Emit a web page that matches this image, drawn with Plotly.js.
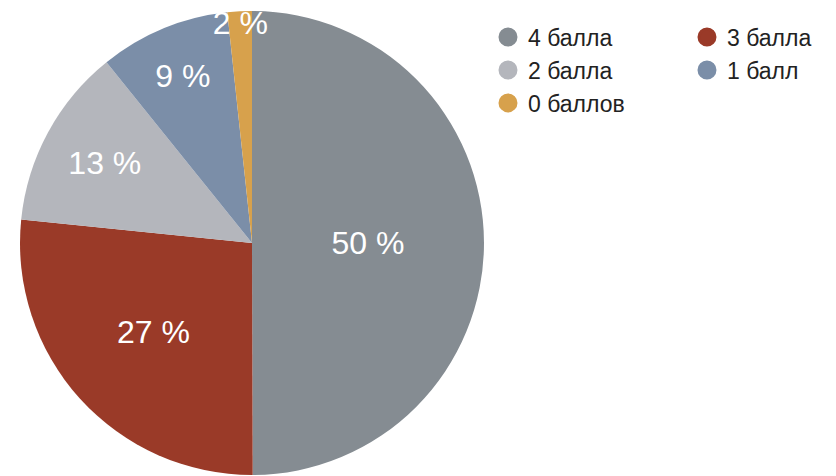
<!DOCTYPE html>
<html>
<head>
<meta charset="utf-8">
<script src="https://cdn.plot.ly/plotly-3.0.1.min.js"></script>
<style>html,body{margin:0;padding:0;background:#fff;}#chart{width:836px;height:476px;}</style>
</head>
<body>
<div id="chart"></div>
<script>
const categories = ["4 балла", "3 балла", "2 балла", "1 балл", "0 баллов"];
const shares = [50, 26.7, 12.6, 9.1, 1.7];
const colors = ["#858c92", "#9a3a28", "#b4b6bc", "#7b8ea8", "#d7a14c"];

const pie = {
  type: "pie",
  labels: categories,
  values: shares,
  sort: false,
  direction: "clockwise",
  rotation: 0,
  marker: { colors: colors, line: { width: 0 } },
  textposition: "inside",
  insidetextorientation: "horizontal",
  texttemplate: "%{value:.0f} %",
  textfont: { family: "Liberation Sans, Arial, sans-serif", size: 32, color: "#ffffff" },
  hoverinfo: "skip",
  showlegend: false
};

const legendTraces = categories.map((c, i) => ({
  type: "scatter",
  mode: "markers",
  x: [null],
  y: [null],
  name: c,
  marker: { symbol: "circle", size: 20, color: colors[i], line: { width: 3, color: colors[i] } },
  hoverinfo: "skip",
  showlegend: true
}));

const layout = {
  width: 836,
  height: 476,
  margin: { l: 20, r: 352, t: 11, b: 1, autoexpand: false },
  paper_bgcolor: "#ffffff",
  plot_bgcolor: "rgba(0,0,0,0)",
  xaxis: { visible: false },
  yaxis: { visible: false },
  showlegend: true,
  legend: {
    orientation: "h",
    x: 1.0086,
    xanchor: "left",
    y: 0.99,
    yanchor: "top",
    entrywidth: 154,
    entrywidthmode: "pixels",
    traceorder: "normal",
    font: { family: "Liberation Sans, Arial, sans-serif", size: 23, color: "#222222" },
    bgcolor: "rgba(0,0,0,0)"
  },
  uniformtext: { minsize: 32, mode: "show" }
};

Plotly.newPlot("chart", [pie].concat(legendTraces), layout, { displayModeBar: false, staticPlot: true });
</script>
</body>
</html>
